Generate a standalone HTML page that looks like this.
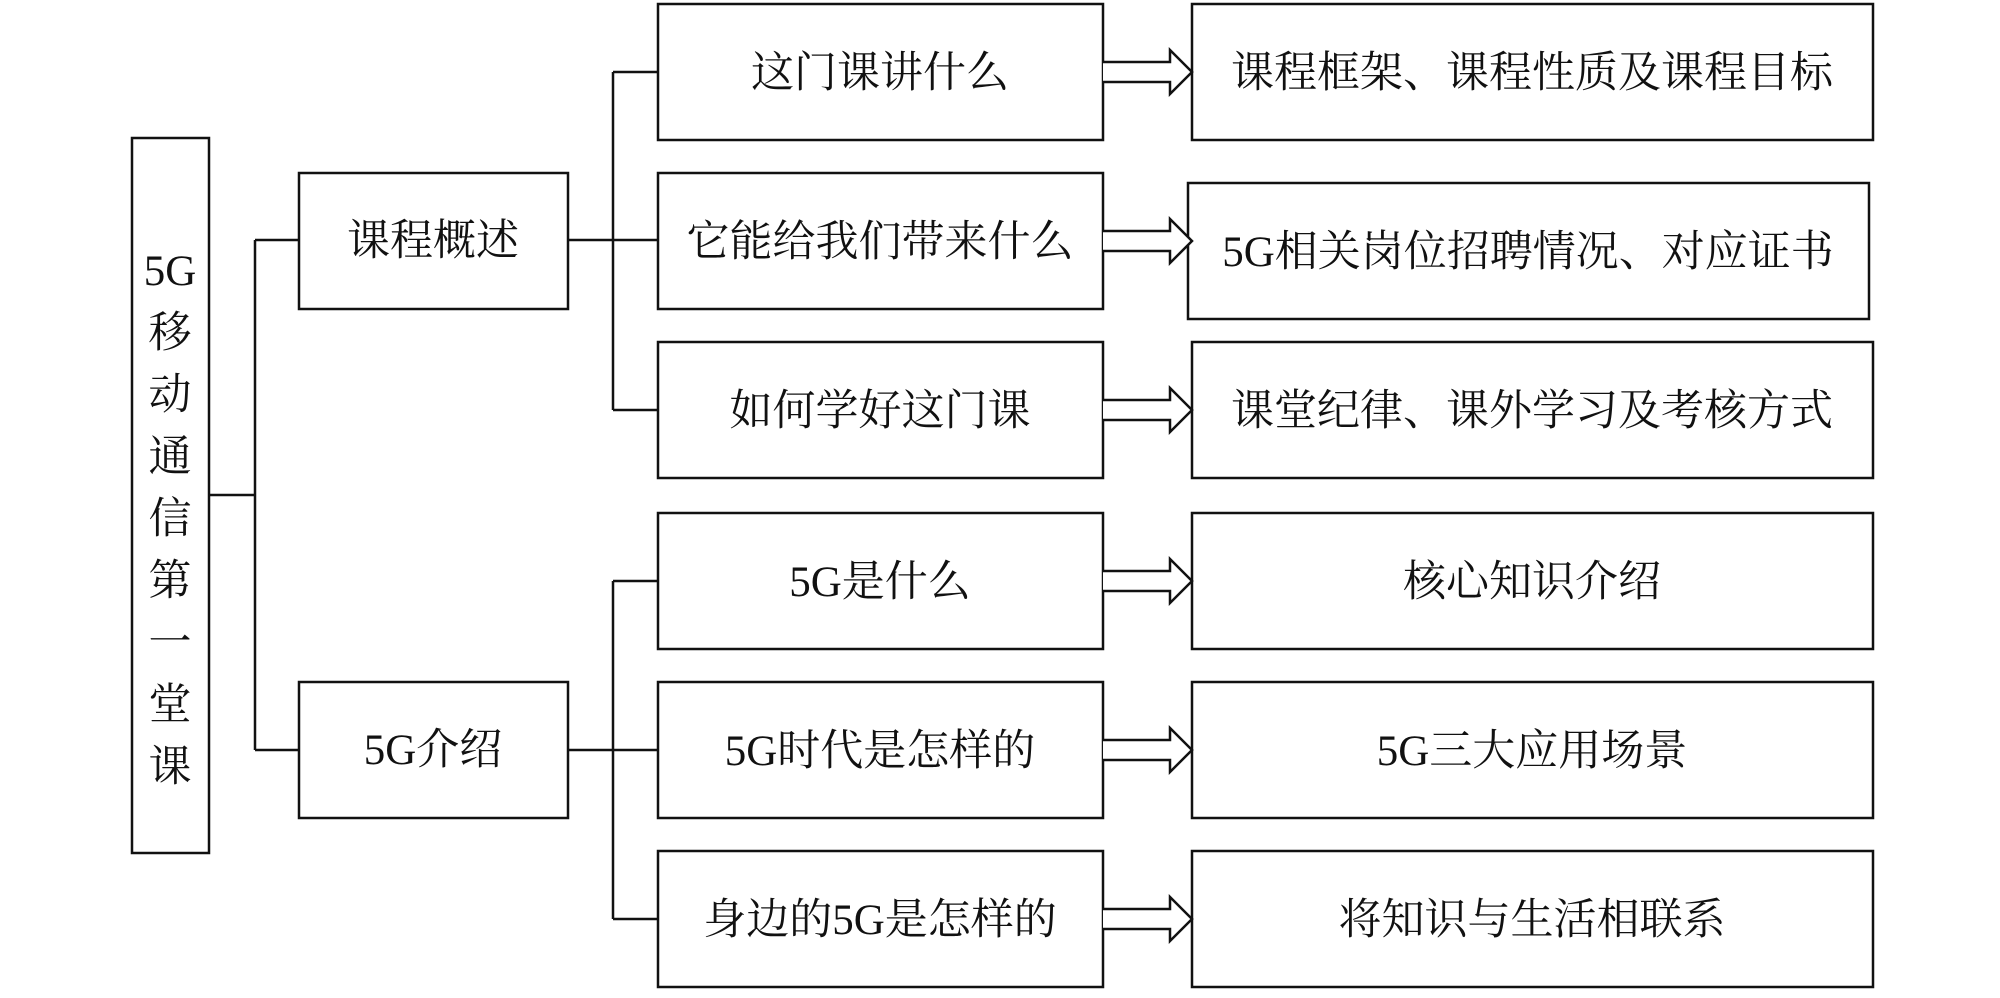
<!DOCTYPE html>
<html><head><meta charset="utf-8"><style>
html,body{margin:0;padding:0;background:#fff;}
svg{display:block;}
text{font-family:"Liberation Serif","Noto Serif CJK SC",serif;font-size:43px;fill:#111;}
</style></head><body>
<svg width="2000" height="998" viewBox="0 0 2000 998" xmlns="http://www.w3.org/2000/svg">
<g fill="none" stroke="#111" stroke-width="2.5">
<rect x="132" y="138" width="77" height="715"/>
<rect x="299" y="173" width="269" height="136"/>
<rect x="299" y="682" width="269" height="136"/>
<rect x="658" y="4" width="445" height="136"/>
<rect x="658" y="173" width="445" height="136"/>
<rect x="658" y="342" width="445" height="136"/>
<rect x="658" y="513" width="445" height="136"/>
<rect x="658" y="682" width="445" height="136"/>
<rect x="658" y="851" width="445" height="136"/>
<rect x="1192" y="4" width="681" height="136"/>
<rect x="1188" y="183" width="681" height="136"/>
<rect x="1192" y="342" width="681" height="136"/>
<rect x="1192" y="513" width="681" height="136"/>
<rect x="1192" y="682" width="681" height="136"/>
<rect x="1192" y="851" width="681" height="136"/>
<path d="M209 495H255M255 240V750M255 240H299M255 750H299"/>
<path d="M568 240H658M613 72V410M613 72H658M613 410H658"/>
<path d="M568 750H658M613 581V919M613 581H658M613 919H658"/>
</g>
<g fill="#fff" stroke="#111" stroke-width="2.5" stroke-linejoin="miter">
<path id="ar" d="M1103 62H1170V50L1192 72L1170 94V82H1103"/>
<use href="#ar" y="169"/>
<use href="#ar" y="338"/>
<use href="#ar" y="509"/>
<use href="#ar" y="678"/>
<use href="#ar" y="847"/>
</g>
<g text-anchor="middle">
<text x="170" y="285">5G</text>
<text x="170" y="347">移</text>
<text x="170" y="409">动</text>
<text x="170" y="471">通</text>
<text x="170" y="533">信</text>
<text x="170" y="595">第</text>
<text x="170" y="657">一</text>
<text x="170" y="719">堂</text>
<text x="170" y="781">课</text>
<text x="433" y="255">课程概述</text>
<text x="433" y="764">5G介绍</text>
<text x="880" y="87">这门课讲什么</text>
<text x="880" y="256">它能给我们带来什么</text>
<text x="880" y="425">如何学好这门课</text>
<text x="880" y="596">5G是什么</text>
<text x="880" y="765">5G时代是怎样的</text>
<text x="880" y="934">身边的5G是怎样的</text>
<text x="1532" y="87">课程框架、课程性质及课程目标</text>
<text x="1528" y="266">5G相关岗位招聘情况、对应证书</text>
<text x="1532" y="425">课堂纪律、课外学习及考核方式</text>
<text x="1532" y="596">核心知识介绍</text>
<text x="1532" y="765">5G三大应用场景</text>
<text x="1532" y="934">将知识与生活相联系</text>
</g>
</svg>
</body></html>
